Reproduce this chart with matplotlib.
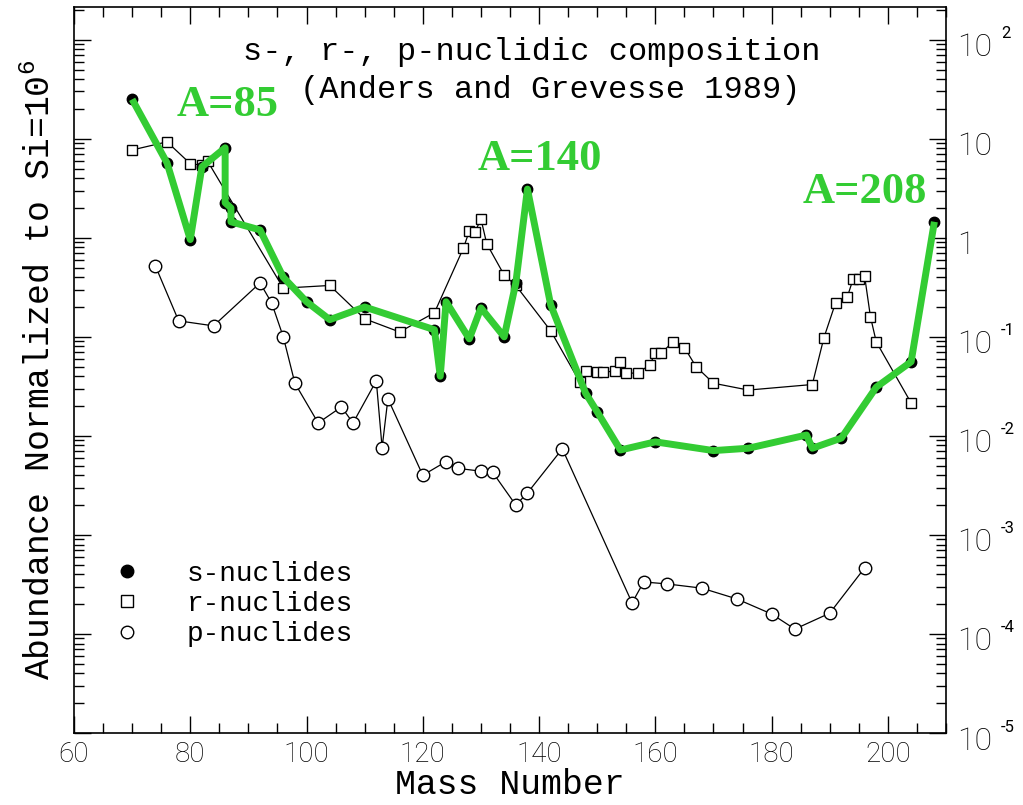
import matplotlib
matplotlib.use("Agg")
import matplotlib.pyplot as plt
import matplotlib.transforms as mtransforms
from matplotlib.lines import Line2D
from matplotlib.ticker import MultipleLocator, LogLocator, NullFormatter, FixedLocator

plt.rcParams["mathtext.fontset"] = "custom"
plt.rcParams["mathtext.rm"] = "Liberation Mono"

# s-process abundances (filled dots, joined by the green curve)
s_mass = [70, 76, 80, 82, 86, 86, 87, 87, 92, 96, 100, 104, 110, 122, 123, 124,
          128, 130, 134, 136, 138, 142, 148, 150, 154, 160, 170, 176, 186, 187,
          192, 198, 204, 208]
s_abund = [25, 5.7, 0.96, 5.2, 8.1, 2.26, 2.0, 1.45, 1.2, 0.40, 0.226, 0.149,
           0.20, 0.118, 0.040, 0.226, 0.0955, 0.196, 0.100, 0.35, 3.1, 0.21,
           0.027, 0.0175, 0.0072, 0.0087, 0.0071, 0.0075, 0.0102, 0.0075,
           0.0095, 0.031, 0.056, 1.45]

# r-process abundances (open squares)
r_mass = [70, 76, 80, 82, 83, 96, 104, 110, 116, 122, 127, 128, 129, 130, 131,
          134, 136, 142, 147, 148, 150, 151, 153, 154, 155, 157, 159, 160, 161,
          163, 165, 167, 170, 176, 187, 189, 191, 193, 194, 195, 196, 197, 198,
          204]
r_abund = [7.7, 9.3, 5.6, 5.4, 5.9, 0.31, 0.33, 0.152, 0.112, 0.175, 0.79, 1.17,
           1.15, 1.55, 0.87, 0.42, 0.33, 0.115, 0.035, 0.045, 0.044, 0.044,
           0.045, 0.056, 0.043, 0.043, 0.052, 0.068, 0.068, 0.089, 0.078, 0.050,
           0.034, 0.029, 0.033, 0.098, 0.22, 0.25, 0.38, 0.38, 0.41, 0.16,
           0.089, 0.0215]

# p-process abundances (open circles)
p_mass = [74, 78, 84, 92, 94, 96, 98, 102, 106, 108, 112, 113, 114, 120, 124,
          126, 130, 132, 136, 138, 144, 156, 158, 162, 168, 174, 180, 184, 190,
          196]
p_abund = [0.52, 0.145, 0.129, 0.35, 0.22, 0.10, 0.034, 0.0135, 0.0196, 0.0135,
           0.036, 0.0076, 0.0237, 0.0040, 0.0055, 0.0047, 0.0044, 0.0043,
           0.0020, 0.00265, 0.0074, 0.000206, 0.000335, 0.00032, 0.00029,
           0.000226, 0.000159, 0.000112, 0.000162, 0.000464]

# s-process peak annotations and where they sit
peak_labels = ["A=85", "A=140", "A=208"]
peak_label_x = [86.5, 140.2, 196.0]
peak_label_y = [22, 6.3, 2.9]

right_ticks = [1e-5, 1e-4, 1e-3, 1e-2, 1e-1, 1, 10, 100]
right_base = ["10", "10", "10", "10", "10", "1", "10", "10"]
right_exp = ["-5", "-4", "-3", "-2", "-1", "", "", "2"]

GREEN = "#33cc33"
MONO = "Liberation Mono"
NARROW = ["Liberation Sans Narrow", "Roboto", "DejaVu Sans"]

fig = plt.figure(figsize=(10.23, 8.05), dpi=100)
ax = fig.add_axes([74 / 1023, 72 / 805, 872 / 1023, 726 / 805])

ax.plot(p_mass, p_abund, color="black", lw=0.9, marker="o", ms=9,
        mfc="white", mec="black", mew=1.0, zorder=2)
ax.plot(r_mass, r_abund, color="black", lw=0.9, marker="s", ms=7.5,
        mfc="white", mec="black", mew=1.0, zorder=3)
ax.plot(s_mass, s_abund, ls="none", marker="o", ms=7.5, color="black", zorder=4)
ax.plot(s_mass, s_abund, color=GREEN, lw=5, solid_joinstyle="round",
        solid_capstyle="butt", zorder=5)

for lab, x, y in zip(peak_labels, peak_label_x, peak_label_y):
    ax.text(x, y, lab, color=GREEN, fontsize=32, fontweight="bold",
            family="Liberation Serif", ha="center", va="center", zorder=6)

ax.set_yscale("log")
ax.set_xlim(60, 210)
ax.set_ylim(1e-5, 10 ** 2.33)

ax.xaxis.set_major_locator(MultipleLocator(20))
ax.xaxis.set_minor_locator(MultipleLocator(5))
ax.yaxis.set_major_locator(FixedLocator(right_ticks))
ax.yaxis.set_minor_locator(LogLocator(base=10, subs=range(2, 10), numticks=20))
ax.yaxis.set_minor_formatter(NullFormatter())
ax.set_yticklabels(right_base)

ax.tick_params(which="both", direction="in", top=True, right=True,
               left=True, labelleft=False, labelright=True, width=1.0)
ax.tick_params(which="major", length=12)
ax.tick_params(which="minor", length=7)
ax.tick_params(axis="x", labelsize=20, pad=6)
ax.tick_params(axis="y", labelsize=23, pad=8)
for lab in ax.get_xticklabels() + ax.get_yticklabels():
    lab.set_family(NARROW)
    lab.set_fontweight("light")

shift_down = mtransforms.ScaledTranslation(0, -5 / 100, fig.dpi_scale_trans)
for lab in ax.get_yticklabels():
    lab.set_transform(lab.get_transform() + shift_down)

exp_trans = mtransforms.blended_transform_factory(ax.transAxes, ax.transData)
exp_trans = exp_trans + mtransforms.ScaledTranslation(0, 6 / 100, fig.dpi_scale_trans)
for t, e in zip(right_ticks, right_exp):
    if e:
        ax.text(1.063, t, e, transform=exp_trans, fontsize=12, family=NARROW,
                ha="left", va="center")

for sp in ax.spines.values():
    sp.set_linewidth(1.2)

ax.set_xlabel("Mass Number", family=MONO, fontsize=25, labelpad=0)
ax.set_ylabel("Abundance Normalized to Si=10$^6$", family=MONO, fontsize=25,
              labelpad=12)

ax.text(0.525, 0.938, "s-, r-, p-nuclidic composition", transform=ax.transAxes,
        family=MONO, fontsize=23, ha="center", va="center")
ax.text(0.546, 0.886, "(Anders and Grevesse 1989)", transform=ax.transAxes,
        family=MONO, fontsize=23, ha="center", va="center")

handles = [
    Line2D([], [], ls="none", marker="o", ms=9, color="black"),
    Line2D([], [], ls="none", marker="s", ms=8, mfc="white", mec="black"),
    Line2D([], [], ls="none", marker="o", ms=9, mfc="white", mec="black"),
]
ax.legend(handles, ["s-nuclides", "r-nuclides", "p-nuclides"],
          loc="lower left", bbox_to_anchor=(0.016, 0.0835), frameon=False,
          handlelength=1.0, handletextpad=1.65, labelspacing=0.15,
          prop={"family": MONO, "size": 20})

fig.savefig("out.png", dpi=100)
